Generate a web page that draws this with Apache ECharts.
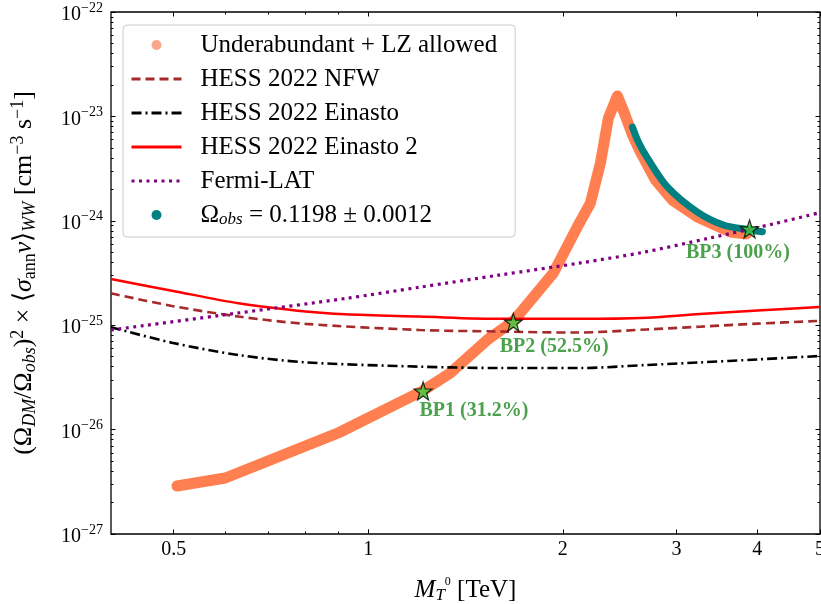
<!DOCTYPE html>
<html>
<head>
<meta charset="utf-8">
<script src="https://cdn.jsdelivr.net/npm/echarts@6/dist/echarts.min.js"></script>
<style>
  html, body { margin: 0; padding: 0; background: #fff; }
  #main { width: 821px; height: 604px; }
</style>
</head>
<body>
<div id="main"></div>
<script>
// masses in TeV, (Omega_DM/Omega_obs)^2 <sigma v> in cm^3 s^-1

// underabundant + LZ allowed band (centre line)
var bandMass  = [0.506, 0.601, 0.905, 1.212, 1.339, 1.527, 1.677, 1.934, 2.106, 2.207, 2.287, 2.353, 2.429,
                 2.490, 2.563, 2.637, 2.782, 2.955, 3.231, 3.635, 3.847];
var bandSigma = [2.88e-27, 3.44e-27, 9.48e-27, 2.34e-26, 3.48e-26, 7.21e-26, 1.09e-25, 3.16e-25, 8.73e-25, 1.48e-24, 3.58e-24, 9.66e-24, 1.57e-23,
                 1.08e-23, 6.64e-24, 4.56e-24, 2.46e-24, 1.58e-24, 1.09e-24, 7.82e-25, 7.48e-25];

// Omega_obs band
var obsMass  = [2.563, 2.618, 2.703, 2.903, 3.231, 3.544, 3.902, 4.073];
var obsSigma = [7.91e-24, 5.69e-24, 4.0e-24, 2.11e-24, 1.21e-24, 9.12e-25, 8.17e-25, 7.87e-25];

// HESS 2022 NFW
var nfwMass  = [0.4, 0.497, 0.63, 0.8, 1.2, 1.6, 2.09, 2.7, 3.26, 4.0, 5.0];
var nfwSigma = [2.02e-25, 1.53e-25, 1.21e-25, 1.03e-25, 9.0e-26, 8.7e-26, 8.5e-26, 9.1e-26, 9.68e-26, 1.035e-25, 1.10e-25];

// HESS 2022 Einasto
var einMass  = [0.4, 0.497, 0.63, 0.8, 1.2, 1.6, 2.13, 2.7, 3.26, 4.0, 5.0];
var einSigma = [9.55e-26, 6.8e-26, 5.18e-26, 4.41e-26, 4.01e-26, 3.89e-26, 3.89e-26, 4.16e-26, 4.4e-26, 4.7e-26, 5.07e-26];

// HESS 2022 Einasto 2
var ein2Mass  = [0.4, 0.497, 0.63, 0.8, 0.92, 1.2, 1.6, 2.13, 2.7, 3.26, 4.0, 5.0];
var ein2Sigma = [2.77e-25, 2.14e-25, 1.62e-25, 1.35e-25, 1.27e-25, 1.21e-25, 1.15e-25, 1.15e-25, 1.18e-25, 1.28e-25, 1.38e-25, 1.49e-25];

// Fermi-LAT
var fermiMass  = [0.4, 0.63, 0.92, 1.2, 1.6, 2.13, 2.65, 3.36, 4.27, 5.0];
var fermiSigma = [9.0e-26, 1.31e-25, 1.80e-25, 2.31e-25, 3.03e-25, 3.95e-25, 4.96e-25, 6.79e-25, 9.46e-25, 1.20e-24];

// benchmark points
var bpMass  = [1.216, 1.677, 3.89];
var bpSigma = [2.34e-26, 1.07e-25, 8.34e-25];
var bpNames = ['BP1 (31.2%)', 'BP2 (52.5%)', 'BP3 (100%)'];

// ticks
var xLabelTicks = [0.5, 1, 2, 3, 4, 5];
var xMinorTicks = [0.6, 0.7, 0.8, 0.9];
var yDecades = [-27, -26, -25, -24, -23, -22];

var bandName = 'Underabundant + LZ allowed';
var obsName = 'Omega_obs';
var serif = 'Liberation Serif';

var L = Math.log10;
function pairs(m, s) {
  return m.map(function (v, i) { return [L(v), L(s[i])]; });
}

var xMin = L(0.4), xMax = L(5);
var yMin = -27, yMax = -22;

var yMinor = [];
yDecades.slice(0, -1).forEach(function (d) {
  for (var k = 2; k <= 9; k++) yMinor.push(d + L(k));
});

var tickStyle = { color: '#000', width: 1 };

function xAxis(pos, vals, len, labels) {
  return {
    type: 'value', position: pos, min: xMin, max: xMax,
    axisLine: { show: false, onZero: false },
    splitLine: { show: false },
    axisTick: { show: true, inside: true, length: len, customValues: vals.map(L), lineStyle: tickStyle },
    axisLabel: labels ? {
      customValues: vals.map(L),
      margin: 6,
      fontFamily: serif, fontSize: 20, color: '#000',
      formatter: function (v) { return String(+Math.pow(10, v).toPrecision(3)); }
    } : { show: false }
  };
}

function yAxis(pos, vals, len) {
  return {
    type: 'value', position: pos, min: yMin, max: yMax,
    axisLine: { show: false, onZero: false },
    splitLine: { show: false },
    axisTick: { show: true, inside: true, length: len, customValues: vals, lineStyle: tickStyle },
    axisLabel: { show: false }
  };
}

var xAxes = [
  xAxis('bottom', [1], 4.5, false),
  xAxis('bottom', xLabelTicks, 4.5, true),
  xAxis('bottom', xMinorTicks, 2.5, false),
  xAxis('top', xLabelTicks, 4.5, false),
  xAxis('top', xMinorTicks, 2.5, false)
];
xAxes[0].name = '{i|M}{sub|T}{ss|0}{n| [TeV]}';
xAxes[0].nameLocation = 'middle';
xAxes[0].nameGap = 42;
xAxes[0].nameTextStyle = {
  fontFamily: serif, fontSize: 25, color: '#000',
  rich: {
    i: { fontFamily: serif, fontStyle: 'italic', fontSize: 25, lineHeight: 28, color: '#000' },
    n: { fontFamily: serif, fontSize: 25, lineHeight: 28, color: '#000' },
    sub: { fontFamily: serif, fontStyle: 'italic', fontSize: 17, lineHeight: 16, verticalAlign: 'bottom', color: '#000' },
    ss: { fontFamily: serif, fontSize: 12, lineHeight: 26, verticalAlign: 'top', color: '#000' }
  }
};

var yAxes = [
  yAxis('left', yDecades, 4.5),
  yAxis('left', yMinor, 2.5),
  yAxis('right', yDecades, 4.5),
  yAxis('right', yMinor, 2.5)
];
yAxes[0].axisLabel = {
  show: true,
  customValues: yDecades,
  margin: 8,
  formatter: function (v) { return '{b|10}{s|\u2212' + Math.round(-v) + '}'; },
  rich: {
    b: { fontFamily: serif, fontSize: 20, lineHeight: 22, padding: [6, 0, 0, 0], color: '#000' },
    s: { fontFamily: serif, fontSize: 14, lineHeight: 14, verticalAlign: 'top', color: '#000' }
  }
};
yAxes[0].name = '{n|(\u03A9}{sub|DM}{n|/\u03A9}{sub|obs}{n|)}{sup|2}{n| \u00D7 \u27E8}{i|\u03C3}{subr|ann}{i|v}{n|\u27E9}{sub|WW}{n| [cm}{sup|\u22123}{n| s}{sup|\u22121}{n|]}';
yAxes[0].nameLocation = 'middle';
yAxes[0].nameRotate = 90;
yAxes[0].nameGap = 72;
yAxes[0].nameTextStyle = {
  fontFamily: serif, fontSize: 26, color: '#000',
  rich: {
    n: { fontFamily: serif, fontSize: 26, lineHeight: 30, color: '#000' },
    i: { fontFamily: serif, fontStyle: 'italic', fontSize: 26, lineHeight: 30, color: '#000' },
    sub: { fontFamily: serif, fontStyle: 'italic', fontSize: 18, lineHeight: 15, verticalAlign: 'bottom', color: '#000' },
    subr: { fontFamily: serif, fontSize: 18, lineHeight: 15, verticalAlign: 'bottom', color: '#000' },
    sup: { fontFamily: serif, fontSize: 18, lineHeight: 15, verticalAlign: 'top', color: '#000' }
  }
};

var starPath = 'path://M50,0 L61.8,35.1 L98.1,35.1 L68.8,56.7 L79.4,91 L50,70 L20.6,91 L31.2,56.7 L1.9,35.1 L38.2,35.1 Z';
var bpLabelPos = [[6, 29], [-4, 34], [-54, 33]];

function limitLine(name, m, s, color, width, dash) {
  return {
    name: name, type: 'line', data: pairs(m, s),
    symbol: 'none', smooth: 0.3, z: 3,
    lineStyle: { color: color, width: width, type: dash, cap: 'butt' },
    itemStyle: { color: color }
  };
}

var noSymbol = { color: 'rgba(0,0,0,0)', borderWidth: 0 };

var chart = echarts.init(document.getElementById('main'));
chart.setOption({
  animation: false,
  backgroundColor: '#fff',
  grid: {
    left: 111, right: 1, top: 12, bottom: 70,
    outerBoundsMode: 'none', containLabel: false,
    show: true, borderColor: '#000', borderWidth: 1.3, backgroundColor: '#fff'
  },
  xAxis: xAxes,
  yAxis: yAxes,
  legend: {
    left: 123, top: 25,
    orient: 'vertical',
    itemWidth: 50, itemHeight: 10, itemGap: 8,
    padding: [7, 18, 9, 7],
    backgroundColor: '#fff',
    borderColor: '#cccccc', borderWidth: 1, borderRadius: 4,
    textStyle: {
      fontFamily: serif, fontSize: 25, lineHeight: 26, color: '#000', padding: [0, 0, 0, 14],
      rich: {
        n: { fontFamily: serif, fontSize: 25, lineHeight: 26, color: '#000' },
        sub: { fontFamily: serif, fontStyle: 'italic', fontSize: 17, lineHeight: 14, verticalAlign: 'bottom', color: '#000' }
      }
    },
    formatter: function (name) {
      if (name === obsName) return '{n|\u03A9}{sub|obs}{n| = 0.1198 \u00B1 0.0012}';
      return name;
    },
    data: [
      { name: bandName, icon: 'circle', itemStyle: { color: '#f9a68a' } },
      { name: 'HESS 2022 NFW', itemStyle: noSymbol, lineStyle: { width: 2.8 } },
      { name: 'HESS 2022 Einasto', itemStyle: noSymbol, lineStyle: { width: 2.8 } },
      { name: 'HESS 2022 Einasto 2', itemStyle: noSymbol, lineStyle: { width: 2.8 } },
      { name: 'Fermi-LAT', itemStyle: noSymbol, lineStyle: { width: 3 } },
      { name: obsName, icon: 'circle' }
    ]
  },
  series: [
    {
      name: bandName, type: 'line', data: pairs(bandMass, bandSigma),
      symbol: 'none', z: 1,
      lineStyle: { color: '#ff7f50', width: 11, cap: 'round', join: 'round' },
      itemStyle: { color: '#ff7f50' }
    },
    {
      name: obsName, type: 'line', data: pairs(obsMass, obsSigma),
      symbol: 'none', smooth: 0.3, z: 2,
      lineStyle: { color: '#008080', width: 7, cap: 'round', join: 'round' },
      itemStyle: { color: '#008080' }
    },
    limitLine('HESS 2022 NFW', nfwMass, nfwSigma, '#a52a2a', 2.6, [9, 5]),
    limitLine('HESS 2022 Einasto', einMass, einSigma, '#000000', 2.6, [10, 4, 2, 4]),
    limitLine('HESS 2022 Einasto 2', ein2Mass, ein2Sigma, '#ff0000', 2.5, 'solid'),
    limitLine('Fermi-LAT', fermiMass, fermiSigma, '#800080', 3.2, [3, 4.5]),
    {
      name: 'BP', type: 'scatter', z: 5,
      symbol: starPath, symbolSize: 18,
      itemStyle: { color: '#3dcc3d', borderColor: '#000', borderWidth: 1.2 },
      label: {
        show: true, formatter: '{b}', align: 'left', verticalAlign: 'middle',
        fontFamily: serif, fontWeight: 'bold', fontSize: 20, color: '#1f8a1f'
      },
      data: bpMass.map(function (m, i) {
        return { name: bpNames[i], value: [L(m), L(bpSigma[i])], label: { position: bpLabelPos[i] } };
      })
    }
  ]
});
</script>
</body>
</html>
